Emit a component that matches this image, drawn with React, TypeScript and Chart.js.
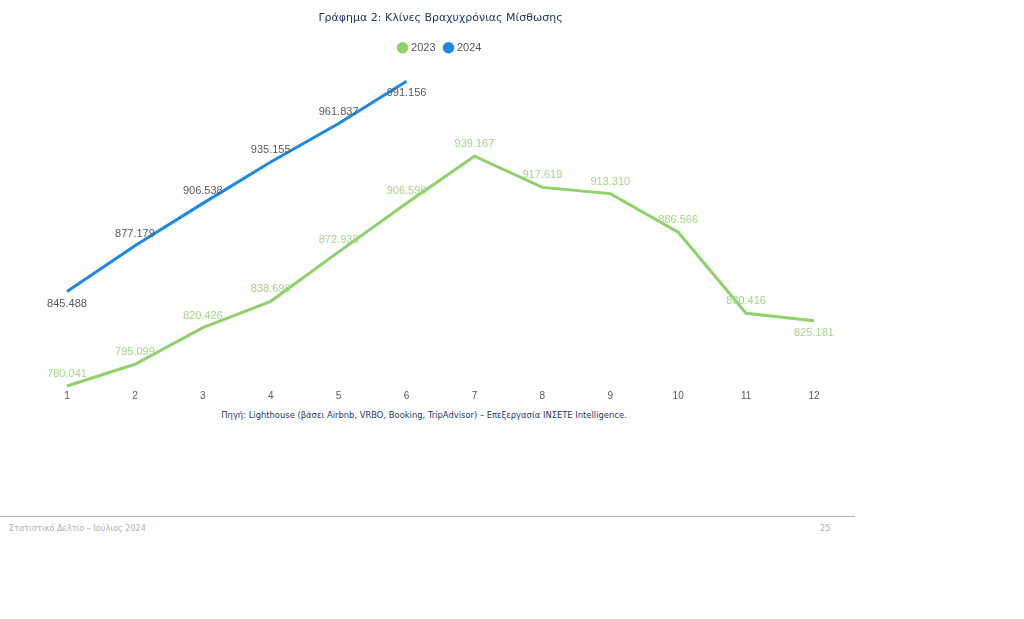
import React, { useEffect, useRef } from "react";
import { Chart, registerables } from "chart.js";

Chart.register(...registerables);

const months = ["1", "2", "3", "4", "5", "6", "7", "8", "9", "10", "11", "12"];
const beds2023 = [780041, 795099, 820426, 838698, 872938, 906598, 939167, 917619, 913310, 886566, 830416, 825181];
const beds2024 = [845488, 877179, 906538, 935155, 961837, 991156];
const labelSide2023 = ["above", "above", "above", "above", "above", "above", "above", "above", "above", "above", "above", "below"];
const labelSide2024 = ["below", "above", "above", "above", "above", "below"];

const titleText = "Γράφημα 2: Κλίνες Βραχυχρόνιας Μίσθωσης";
const sourceText = "Πηγή: Lighthouse (βάσει Airbnb, VRBO, Booking, TripAdvisor) – Επεξεργασία INΣΕΤΕ Intelligence.";
const footerLeft = "Στατιστικό Δελτίο – Ιούλιος 2024";
const footerRight = "25";

const fmt = (v: number) => String(v).replace(/\B(?=(\d{3})+(?!\d))/g, ".");

const valueLabels = {
  id: "valueLabels",
  afterDatasetsDraw(chart: any) {
    const ctx = chart.ctx;
    ctx.save();
    ctx.font = "11px 'Liberation Sans', Arial, sans-serif";
    ctx.textAlign = "center";
    ctx.textBaseline = "middle";
    chart.data.datasets.forEach((ds: any, i: number) => {
      const meta = chart.getDatasetMeta(i);
      meta.data.forEach((pt: any, j: number) => {
        const v = ds.data[j];
        if (v == null) return;
        const side = ds.labelSide[j];
        ctx.fillStyle = ds.labelColor;
        ctx.fillText(fmt(v), pt.x, pt.y + (side === "below" ? 12 : -12));
      });
    });
    ctx.restore();
  },
};

const legendSpacer = {
  id: "legendSpacer",
  beforeInit(chart: any) {
    const lg = chart.legend;
    if (!lg) return;
    const orig = lg.fit;
    lg.fit = function () {
      orig.call(this);
      this.height += 18;
    };
  },
};

export default function App() {
  const ref = useRef<HTMLCanvasElement | null>(null);
  useEffect(() => {
    if (!ref.current) return;
    const all = [...beds2023, ...beds2024];
    const chart = new Chart(ref.current, {
      type: "line",
      data: {
        labels: months,
        datasets: [
          {
            label: "2023",
            data: beds2023,
            borderColor: "#8fd16a",
            backgroundColor: "#8fd16a",
            borderWidth: 3,
            pointRadius: 0,
            tension: 0,
            clip: false,
            labelSide: labelSide2023,
            labelColor: "#a3d888",
          } as any,
          {
            label: "2024",
            data: beds2024,
            borderColor: "#1e88e5",
            backgroundColor: "#1e88e5",
            borderWidth: 3,
            pointRadius: 0,
            tension: 0,
            clip: false,
            labelSide: labelSide2024,
            labelColor: "#595959",
          } as any,
        ],
      },
      options: {
        responsive: false,
        animation: false,
        layout: { padding: { left: 67, right: 56, top: 0, bottom: 4 } },
        plugins: {
          title: {
            display: true,
            text: titleText,
            color: "#1f3864",
            font: { family: "'DejaVu Sans', Verdana, sans-serif", size: 11, weight: "normal" },
            padding: { top: 12, bottom: 7 },
          },
          legend: {
            display: true,
            labels: {
              usePointStyle: true,
              pointStyle: "circle",
              boxWidth: 6,
              boxHeight: 6,
              padding: 10,
              color: "#555555",
              font: { family: "'Liberation Sans', Arial, sans-serif", size: 11 },
            },
          },
          tooltip: { enabled: false },
        },
        scales: {
          x: {
            type: "category",
            offset: false,
            grid: { display: false, drawTicks: false },
            border: { display: false },
            ticks: {
              padding: 4,
              color: "#595959",
              font: { family: "'Liberation Sans', Arial, sans-serif", size: 10 },
              maxRotation: 0,
              autoSkip: false,
            },
          },
          y: {
            display: false,
            min: Math.min(...all),
            max: Math.max(...all),
          },
        },
      },
      plugins: [valueLabels, legendSpacer],
    });
    return () => chart.destroy();
  }, []);

  return (
    <div style={{ position: "absolute", left: 0, top: 0, width: 1024, height: 619, background: "#fff", overflow: "hidden" }}>
      <canvas ref={ref} width={870} height={410} style={{ position: "absolute", left: 0, top: 0 }} />
      <div
        style={{
          position: "absolute",
          left: 0,
          width: 848,
          top: 410,
          textAlign: "center",
          font: "8.4px 'DejaVu Sans', Verdana, sans-serif",
          color: "#1f3864",
          whiteSpace: "nowrap",
        }}
      >
        {sourceText}
      </div>
      <div style={{ position: "absolute", left: 0, top: 516, width: 855, height: 0, borderTop: "1px solid #b5b5b5" }} />
      <div
        style={{
          position: "absolute",
          left: 9,
          top: 523,
          font: "9px 'DejaVu Sans Condensed', 'Liberation Sans Narrow', sans-serif",
          color: "#b0b0b0",
          whiteSpace: "nowrap",
        }}
      >
        {footerLeft}
      </div>
      <div
        style={{
          position: "absolute",
          left: 820,
          top: 523,
          font: "9px 'DejaVu Sans Condensed', 'Liberation Sans Narrow', sans-serif",
          color: "#b0b0b0",
        }}
      >
        {footerRight}
      </div>
    </div>
  );
}
